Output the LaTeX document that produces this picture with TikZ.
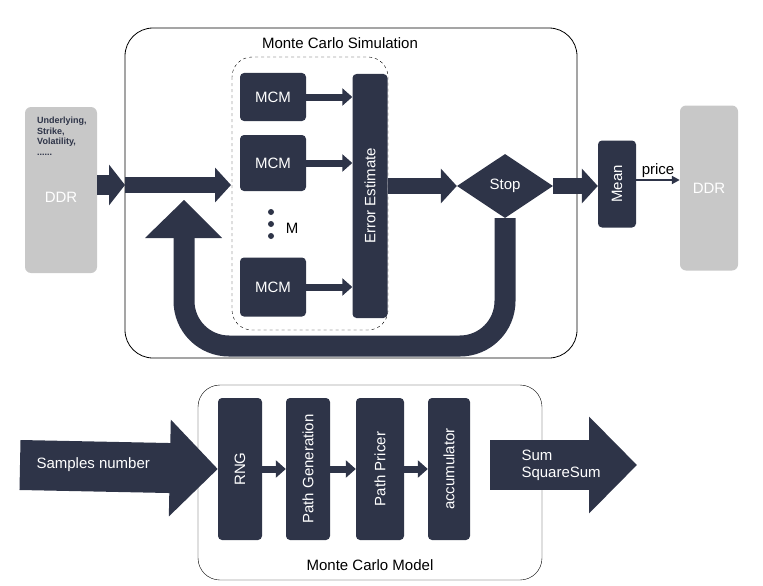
\documentclass[tikz,border=0pt]{standalone}
\usepackage{fontspec}
\setmainfont{Liberation Sans}
\usetikzlibrary{arrows.meta,shapes.geometric}
\definecolor{navy}{HTML}{2E3448}
\definecolor{ddrgray}{HTML}{C8C8C8}
\tikzset{
  txt/.style={font=\fontsize{15}{17}\selectfont},
  blk/.style={fill=navy, text=white, rounded corners=4pt, inner sep=0pt, txt},
  ddr/.style={fill=ddrgray, rounded corners=6pt, inner sep=0pt},
  small/.style={draw=navy, line width=7pt, -{Triangle[width=17pt,length=10pt]}},
  mid/.style={draw=navy, line width=16pt, -{Triangle[width=34pt,length=16pt]}},
  big/.style={draw=navy, line width=20pt, -{Triangle[width=40pt,length=16pt]}},
  fat/.style={draw=navy, line width=50pt, -{Triangle[width=94pt,length=48pt]}}
}
\begin{document}
\begin{tikzpicture}[x=1pt,y=-1pt]
		\useasboundingbox (0,0) rectangle (763,586);
		%top: simulation
		\draw[rounded corners=28pt, thick] (125,28) rectangle (577,358);
		\node[txt] (simt) at (340,43) {Monte Carlo Simulation};
		\draw[dashed, rounded corners=20pt] (232,57) rectangle (388,330);
		\node[ddr, minimum width=72pt, minimum height=166pt] (ddrl) at (61,190) {};
		\node[font=\fontsize{9}{10.5}\selectfont\bfseries, align=left, text=navy, anchor=north west, inner sep=0pt] (par) at (37,117) {Underlying,\\Strike,\\Volatility,\\......};
		\node[text=white, txt] (ddrlt) at (61,197) {DDR};
		\node[ddr, minimum width=58pt, minimum height=165pt] (ddrr) at (709,188) {};
		\node[text=white, txt] at (709,188) {DDR};
		\node[blk, minimum width=66pt, minimum height=48pt] (mcma) at (273,97) {MCM};
		\node[blk, minimum width=66pt, minimum height=56pt] (mcmb) at (273,163) {MCM};
		\node[blk, minimum width=66pt, minimum height=59pt] (mcmc) at (273,287) {MCM};
		\node[blk, minimum width=35pt, minimum height=244pt] (err) at (370,196) {};
		\node[rotate=90, text=white, txt] at (err) {Error Estimate};
		\foreach \y in {212,224,236} \fill[navy] (271,\y) circle (3pt);
		\node[txt] (mm) at (292,228) {M};
		\draw[small] (mcma.east) -- (mcma.east -| err.west);
		\draw[small] (mcmb.east) -- (mcmb.east -| err.west);
		\draw[small] (mcmc.east) -- (mcmc.east -| err.west);
		\node[diamond, fill=navy, text=white, aspect=1.5, minimum width=96pt, minimum height=64pt, inner sep=0pt, txt] (stop) at (505,186) {Stop};
		\node[blk, minimum width=38pt, minimum height=87pt] (mean) at (617,184) {};
		\node[rotate=90, text=white, txt] at (mean) {Mean};
		\coordinate (inl) at (125,185);
		\coordinate (inr) at (231,185);
		\draw[big] (ddrl.east |- inl) -- (inl);
		\draw[mid] (inl) -- (inr);
		\draw[mid] (err.east |- stop) -- (stop.west);
		\draw[mid] (stop.east) -- (mean.west |- stop);
		\draw[draw=navy, line width=2pt, -{Triangle[width=8pt,length=8pt]}] (mean.east |- 0,180) -- node[above, txt, text=black, inner sep=1pt] {price} (ddrr.west |- 0,180);
		%feedback
		\coordinate (fbh) at (184,236);
		\draw[navy, line width=21pt, rounded corners=45pt] (stop.south) -- (505,346) -- (184,346) -- (fbh);
		\fill[navy] (145,238) -- (184,200) -- (222,238) -- cycle;
		%bottom: model
		\draw[rounded corners=22pt] (198,385) rectangle (542,580);
		\node[txt] (modt) at (370,565) {Monte Carlo Model};
		\node[blk, minimum width=44pt, minimum height=142pt] (rng) at (240,469) {};
		\node[blk, minimum width=44pt, minimum height=142pt] (pgen) at (308,469) {};
		\node[blk, minimum width=48pt, minimum height=142pt] (ppr) at (380,469) {};
		\node[blk, minimum width=42pt, minimum height=142pt] (acc) at (449,469) {};
		\node[rotate=90, text=white, txt] at (rng) {RNG};
		\node[rotate=90, text=white, txt] at (pgen) {Path Generation};
		\node[rotate=90, text=white, txt] at (ppr) {Path Pricer};
		\node[rotate=90, text=white, txt] at (acc) {accumulator};
		\draw[small] (rng.east) -- (pgen.west);
		\draw[small] (pgen.east) -- (ppr.west);
		\draw[small] (ppr.east) -- (acc.west);
		\coordinate (sampin) at (20,465);
		\coordinate (sumout) at (637,465);
		\draw[fat] (sampin) -- (rng.west);
		\draw[fat] (acc.east |- sumout) ++(20,0) -- (sumout);
		\node[text=white, txt, anchor=west] (samp) at (33,465) {Samples number};
		\node[text=white, txt, align=left, anchor=west] (sums) at (518,465) {Sum\\SquareSum};
\end{tikzpicture}
\end{document}
